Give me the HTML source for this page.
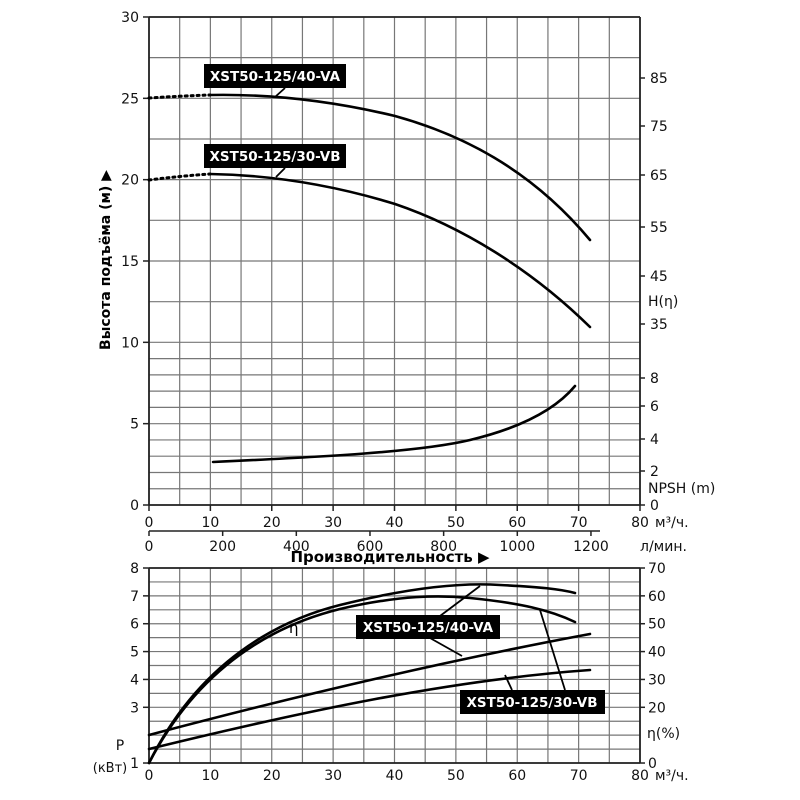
<!DOCTYPE html>
<html><head><meta charset="utf-8"><style>
body{margin:0;background:#fff}
svg{display:block;font-family:"DejaVu Sans","Liberation Sans",sans-serif}
</style></head><body>
<svg id="s" width="800" height="800" viewBox="0 0 800 800" xmlns="http://www.w3.org/2000/svg">
<g id="grid" stroke="#777" stroke-width="1.2" fill="none"></g>
<g id="txt" font-size="14" fill="#111"></g>
<g fill="none" stroke="#000" stroke-width="2.6" stroke-linecap="round">
<path d="M149,98 Q180,96 210,95" stroke-dasharray="2,4" stroke-width="3"/>
<path d="M210,95 C260,94 320,98 395,116 C460,134 530,168 590,240"/>
<path d="M149,180 Q180,176 210,174" stroke-dasharray="2,4" stroke-width="3"/>
<path d="M210,174 C270,175 330,184 395,204 C460,226 530,268 590,327"/>
<path d="M213,462 C320,457 420,452 470,440 C520,428 555,410 575,386"/>
<path d="M149,763 C200,660 280,620 340,605 C420,585 470,583 500,585 C540,587 560,589 575,593"/>
<path d="M149,763 C200,665 275,625 340,609 C400,595 440,595 470,598 C520,603 550,610 575,622"/>
<path d="M149,735 C300,695 450,660 590,634"/>
<path d="M149,749 C300,712 450,680 590,670"/>
</g>
<g stroke="#000" stroke-width="1.8">
<line x1="285" y1="88" x2="275" y2="97"/>
<line x1="285" y1="168" x2="276" y2="177"/>
<line x1="440" y1="616" x2="480" y2="586"/>
<line x1="430" y1="638" x2="462" y2="656"/>
<line x1="540" y1="610" x2="565" y2="690"/>
<line x1="512" y1="690" x2="505" y2="675"/>
</g>
<g font-weight="bold" font-size="13.5">
<rect x="204" y="64" width="142" height="24" fill="#000"/><text x="275" y="81" fill="#fff" text-anchor="middle">XST50-125/40-VA</text>
<rect x="204" y="144" width="142" height="24" fill="#000"/><text x="275" y="161" fill="#fff" text-anchor="middle">XST50-125/30-VB</text>
<rect x="356" y="615" width="144" height="24" fill="#000"/><text x="428" y="632" fill="#fff" text-anchor="middle">XST50-125/40-VA</text>
<rect x="460" y="690" width="145" height="24" fill="#000"/><text x="532" y="707" fill="#fff" text-anchor="middle">XST50-125/30-VB</text>
</g>
<text x="289" y="633" font-size="15">η</text>
<text x="390" y="562" font-size="15" font-weight="bold" text-anchor="middle">Производительность ▶</text>
<text transform="translate(110,260) rotate(-90)" font-size="14" font-weight="bold" text-anchor="middle">Высота подъёма (м) ▶</text>
</svg>
<script>
const g=document.getElementById('grid'),t=document.getElementById('txt');
const L=(a,b,c,d,w,col)=>g.insertAdjacentHTML('beforeend',`<line x1="${a}" y1="${b}" x2="${c}" y2="${d}"${w?` stroke-width="${w}"`:''}${col?` stroke="${col}"`:''}/>`);
const T=(x,y,s,a,fs)=>t.insertAdjacentHTML('beforeend',`<text x="${x}" y="${y}" text-anchor="${a||'start'}"${fs?` font-size="${fs}"`:''}>${s}</text>`);
const X=q=>149+q*6.1375;
const Yt=h=>505-h*16.267;
for(let q=0;q<=80;q+=5)L(X(q),17,X(q),505);
for(let h=0;h<=10;h+=1)L(149,Yt(h),640,Yt(h));
for(let h=12.5;h<=30;h+=2.5)L(149,Yt(h),640,Yt(h));
L(149,17,149,505,1.8,'#222');L(640,17,640,505,1.8,'#222');L(149,17,640,17,1.8,'#222');L(149,505,640,505,1.8,'#222');
for(let h=0;h<=30;h+=5){L(143,Yt(h),149,Yt(h),1.5,'#222');T(139,Yt(h)+5,h,'end');}
for(let q=0;q<=80;q+=10){L(X(q),505,X(q),511,1.5,'#222');T(X(q),527,q,'middle');}
T(655,527,'м³/ч.');
L(149,531,600,531,1.5,'#222');
for(let l=0;l<=1200;l+=200){const x=149+l*0.3683;L(x,531,x,536,1.5,'#222');T(x,551,l,'middle');}
T(640,551,'л/мин.');
[[85,83],[75,131],[65,180],[55,232],[45,281],[35,329]].forEach(([v,y])=>{L(640,y-5,645,y-5,1.5,'#222');T(650,y,v);});
T(648,306,'H(η)');
[[8,383],[6,411],[4,444],[2,476],[0,510]].forEach(([v,y])=>{L(640,y-5,645,y-5,1.5,'#222');T(650,y,v);});
T(648,493,'NPSH (m)');
const Yb=i=>568+i*13.93;
for(let q=0;q<=80;q+=5)L(X(q),568,X(q),763);
for(let i=0;i<=14;i++)L(149,Yb(i),640,Yb(i));
L(149,568,149,763,1.8,'#222');L(640,568,640,763,1.8,'#222');L(149,763,640,763,1.8,'#222');L(149,568,640,568,1.8,'#222');
[[8,0],[7,2],[6,4],[5,6],[4,8],[3,10],[1,14]].forEach(([v,i])=>{L(143,Yb(i),149,Yb(i),1.5,'#222');T(139,Yb(i)+5,v,'end');});
[[70,0],[60,2],[50,4],[40,6],[30,8],[20,10],[0,14]].forEach(([v,i])=>{L(640,Yb(i),645,Yb(i),1.5,'#222');T(648,Yb(i)+5,v);});
T(647,738,'η(%)');
for(let q=0;q<=80;q+=10){T(X(q),780,q,'middle');}
T(655,780,'м³/ч.');
T(120,750,'P','middle');T(110,772,'(кВт)','middle',13);
</script>
</body></html>
